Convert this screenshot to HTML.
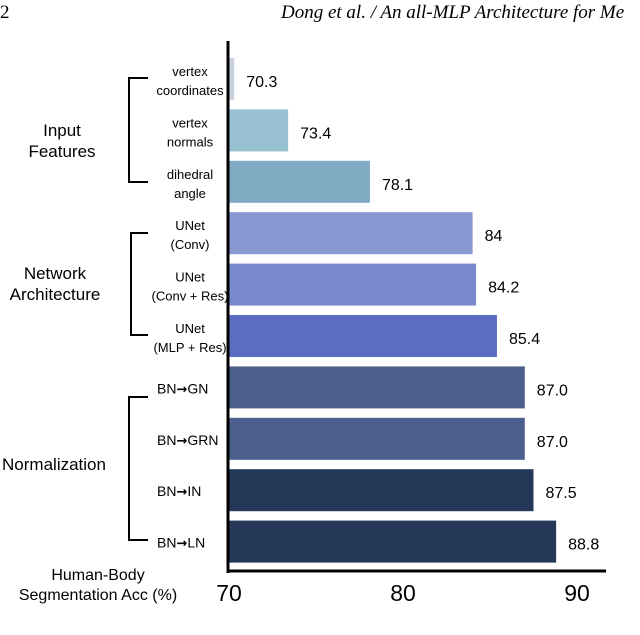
<!DOCTYPE html>
<html><head><meta charset="utf-8"><style>
body{margin:0;background:#fff;width:640px;height:635px;overflow:hidden;font-family:"Liberation Sans",sans-serif}
svg{display:block}
</style></head><body>
<svg width="640" height="635" xmlns="http://www.w3.org/2000/svg">
<text x="0" y="18" font-family="Liberation Serif" font-size="19">2</text>
<text x="281" y="18" font-family="Liberation Serif" font-style="italic" font-size="19">Dong et al. / An all-MLP Architecture for Me</text>
<text x="0" y="650" font-family="Liberation Serif" font-size="19" font-weight="bold">Figure 2:</text>
<g id="bars"></g>
<g id="axes"></g>
<g fill="none" stroke="#000" stroke-width="2">
<path d="M148,78 H129 V182 H148"/>
<path d="M148,233 H131 V335 H148"/>
<path d="M148,397 H129 V540 H148"/>
</g>
<g font-size="17" text-anchor="middle" fill="#000">
<text x="62" y="136">Input</text>
<text x="62" y="157">Features</text>
<text x="55" y="279">Network</text>
<text x="55" y="300">Architecture</text>
<text x="54" y="470">Normalization</text>
<text x="98" y="580" font-size="16">Human-Body</text>
<text x="98" y="600" font-size="16">Segmentation Acc (%)</text>
</g>
</svg>
<script>
const categories=[["vertex","coordinates"],["vertex","normals"],["dihedral","angle"],["UNet","(Conv)"],["UNet","(Conv + Res)"],["UNet","(MLP + Res)"],["BN","GN"],["BN","GRN"],["BN","IN"],["BN","LN"]];
const isNorm=[false,false,false,false,false,false,true,true,true,true];
const values=[70.3,73.4,78.1,84,84.2,85.4,87.0,87.0,87.5,88.8];
const valueLabels=["70.3","73.4","78.1","84","84.2","85.4","87.0","87.0","87.5","88.8"];
const ticks=[70,80,90];
const colors=["#c9d1de","#98c1d1","#80a9c2","#8a98d2","#7b8acd","#5b6dc1","#4a5f8b","#4a5f8b","#253858","#253858"];
const NS="http://www.w3.org/2000/svg";
const x=v=>229+(v-70)*17.4;
const y=i=>58+i*51.4;
const bh=42;
const gb=document.getElementById('bars'),ga=document.getElementById('axes');
function mk(t,a,p){const e=document.createElementNS(NS,t);for(const k in a)e.setAttribute(k,a[k]);p.appendChild(e);return e;}
values.forEach((v,i)=>{
 const r=mk('rect',{x:x(70),y:y(i),width:x(v)-x(70),height:bh,fill:colors[i]},gb);
 
 
 const t=mk('text',{x:x(v)+12,y:y(i)+bh/2+8,'font-size':'16',fill:'#000'},gb);
 t.textContent=valueLabels[i];
 
 
 const c=categories[i];
 if(isNorm[i]){
  const cl=mk('text',{x:157,y:y(i)+bh/2+6,'font-size':'14',fill:'#000','text-anchor':'start'},gb);
  
  
  const a=mk('tspan',{},cl);a.textContent=c[0];
  const b=mk('tspan',{'font-family':'DejaVu Sans','font-weight':'bold','font-size':'13'},cl);b.textContent='\u2192';
  const d=mk('tspan',{},cl);d.textContent=c[1];
 } else {
  const cl=mk('text',{x:190,y:0,'font-size':'13','text-anchor':'middle',fill:'#000'},gb);
  
  
  c.forEach((s,j)=>{const ts=mk('tspan',{x:190,y:y(i)+bh/2+(j?16:-3)},cl);ts.textContent=s;});
 }
});
const yl=mk('line',{x1:228,y1:41,x2:228,y2:573,stroke:'#000','stroke-width':3},ga);


const xl=mk('line',{x1:227,y1:571,x2:606,y2:571,stroke:'#000','stroke-width':3},ga);


ticks.forEach(t=>{
 const e=mk('text',{x:x(t),y:601,'font-size':'23','text-anchor':'middle',fill:'#000'},ga);
 e.textContent=t;
 
 
});
</script>
</body></html>
